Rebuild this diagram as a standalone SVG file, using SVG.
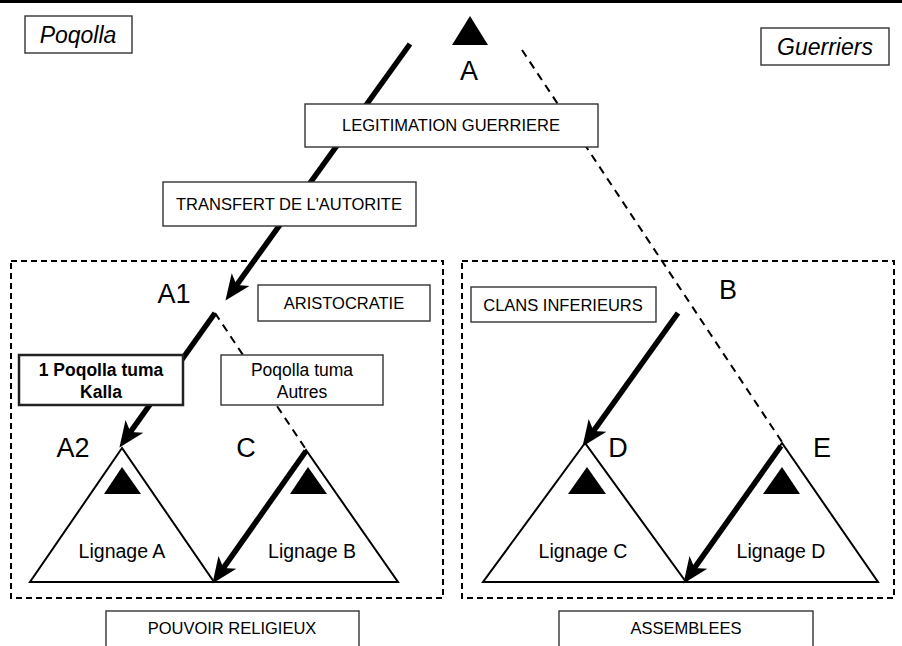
<svg xmlns="http://www.w3.org/2000/svg" width="902" height="646" viewBox="0 0 902 646">
<style>
  text { font-family: "Liberation Sans", Arial, sans-serif; fill: #000; }
  .lbl { font-size: 16.5px; text-anchor: middle; }
  .big { font-size: 27px; text-anchor: middle; }
  .lin { font-size: 19.5px; text-anchor: middle; }
  .ital { font-size: 23px; font-style: italic; text-anchor: middle; }
  .box { fill: #fff; stroke: #333; stroke-width: 1.4; }
  .grp { fill: none; stroke: #000; stroke-width: 2; stroke-dasharray: 6 4; }
  .tri { fill: none; stroke: #000; stroke-width: 2; stroke-linejoin: miter; }
  .mini { fill: #000; }
  .thick { stroke: #000; stroke-width: 5.5; fill: none; }
  .dash { stroke: #000; stroke-width: 2; stroke-dasharray: 8 6; fill: none; }
</style>
<defs>
  <marker id="ah" markerUnits="userSpaceOnUse" markerWidth="30" markerHeight="30" refX="2" refY="0" orient="auto" viewBox="-6 -10 22 20" overflow="visible">
    <path d="M14,0 L-5,-8 L0,0 L-5,8 Z" fill="#000"/>
  </marker>
</defs>
<rect x="0" y="0" width="902" height="646" fill="#fff"/>
<rect x="0" y="0" width="902" height="3" fill="#000"/>

<g id="group-left"><rect class="grp" x="11" y="261" width="432" height="337"/></g>
<g id="group-right"><rect class="grp" x="462" y="261" width="432" height="337"/></g>

<g id="node-A">
  <polygon class="mini" points="470,16 452,45 488,45"/>
  <text class="big" x="469" y="80">A</text>
</g>
<g id="node-A1"><text class="big" x="174" y="303">A1</text></g>
<g id="node-B"><text class="big" x="728" y="299">B</text></g>

<g id="node-A2">
  <polygon class="tri" points="122,448 30,582 214,582"/>
  <polygon class="mini" points="122,467 104,494 141,494"/>
  <text class="big" x="73" y="457">A2</text>
  <text class="lin" x="122" y="558">Lignage A</text>
</g>
<g id="node-C">
  <polygon class="tri" points="306,450 214,582 398,582"/>
  <polygon class="mini" points="308,467 290,494 327,494"/>
  <text class="big" x="246" y="457">C</text>
  <text class="lin" x="312" y="558">Lignage B</text>
</g>
<g id="node-D">
  <polygon class="tri" points="585,443 483,582 686,582"/>
  <polygon class="mini" points="587,467 568,494 606,494"/>
  <text class="big" x="618" y="457">D</text>
  <text class="lin" x="583" y="558">Lignage C</text>
</g>
<g id="node-E">
  <polygon class="tri" points="782,443 686,582 878,582"/>
  <polygon class="mini" points="782,467 763,494 800,494"/>
  <text class="big" x="822" y="457">E</text>
  <text class="lin" x="781" y="558">Lignage D</text>
</g>

<g id="connectors">
  <line class="dash" x1="522" y1="50" x2="782" y2="442"/>
  <line class="dash" x1="215" y1="313" x2="305" y2="448"/>
  <line class="thick" x1="410" y1="44" x2="235" y2="287.3" marker-end="url(#ah)"/>
  <line class="thick" x1="215" y1="313" x2="128.9" y2="434.2" marker-end="url(#ah)"/>
  <line class="thick" x1="306" y1="451" x2="221.9" y2="570.2" marker-end="url(#ah)"/>
  <line class="thick" x1="678" y1="313" x2="592" y2="433.2" marker-end="url(#ah)"/>
  <line class="thick" x1="781" y1="446" x2="692.9" y2="570.2" marker-end="url(#ah)"/>
</g>

<g id="label-poqolla">
  <rect class="box" x="25" y="16" width="107" height="37"/>
  <text class="ital" x="78" y="43">Poqolla</text>
</g>
<g id="label-guerriers">
  <rect class="box" x="761" y="28" width="128" height="37"/>
  <text class="ital" x="825" y="55">Guerriers</text>
</g>
<g id="label-legitimation">
  <rect class="box" x="305" y="104" width="293" height="43"/>
  <text class="lbl" x="451" y="131">LEGITIMATION GUERRIERE</text>
</g>
<g id="label-transfert">
  <rect class="box" x="163" y="182" width="253" height="44"/>
  <text class="lbl" x="289" y="210">TRANSFERT DE L'AUTORITE</text>
</g>
<g id="label-aristocratie">
  <rect class="box" x="258" y="285" width="172" height="36"/>
  <text class="lbl" x="344" y="309">ARISTOCRATIE</text>
</g>
<g id="label-kalla">
  <rect x="19" y="355" width="164" height="50" fill="#fff" stroke="#222" stroke-width="2.5"/>
  <text x="101" y="376" style="font-size:17.5px;font-weight:bold;text-anchor:middle">1 Poqolla tuma</text>
  <text x="101" y="398" style="font-size:17.5px;font-weight:bold;text-anchor:middle">Kalla</text>
</g>
<g id="label-autres">
  <rect class="box" x="221" y="355" width="162" height="50"/>
  <text x="302" y="376" style="font-size:17.5px;text-anchor:middle">Poqolla tuma</text>
  <text x="302" y="398" style="font-size:17.5px;text-anchor:middle">Autres</text>
</g>
<g id="label-clans">
  <rect class="box" x="471" y="287" width="185" height="35"/>
  <text class="lbl" x="563" y="311">CLANS INFERIEURS</text>
</g>
<g id="label-pouvoir">
  <rect class="box" x="106" y="611" width="253" height="45"/>
  <text class="lbl" x="232" y="634">POUVOIR RELIGIEUX</text>
</g>
<g id="label-assemblees">
  <rect class="box" x="559" y="611" width="254" height="45"/>
  <text class="lbl" x="686" y="634">ASSEMBLEES</text>
</g>
</svg>
